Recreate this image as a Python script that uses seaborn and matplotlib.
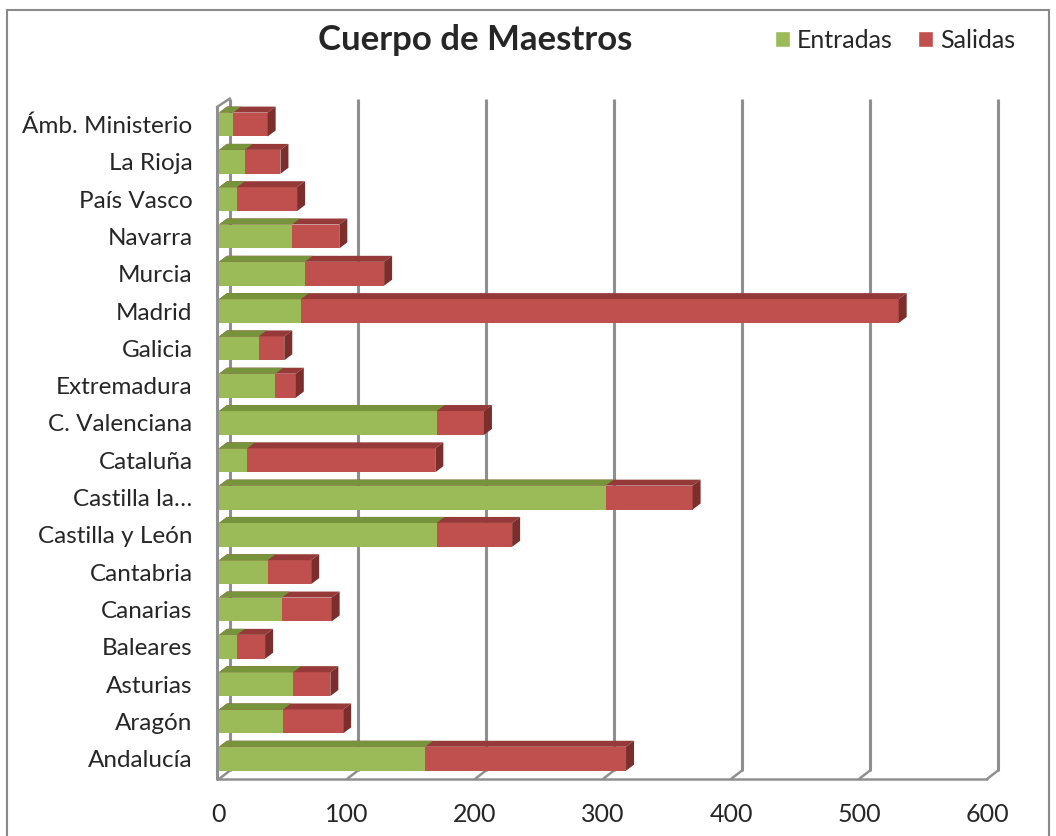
import matplotlib
matplotlib.use("Agg")
import matplotlib.pyplot as plt
from matplotlib.patches import Polygon, Patch, Rectangle
import seaborn as sns
import pandas as pd

# data
regions = ['Andalucía', 'Aragón', 'Asturias', 'Baleares', 'Canarias', 'Cantabria',
           'Castilla y León', 'Castilla la…', 'Cataluña', 'C. Valenciana', 'Extremadura',
           'Galicia', 'Madrid', 'Murcia', 'Navarra', 'País Vasco', 'La Rioja', 'Ámb. Ministerio']
entradas = [161, 50, 58, 14, 49, 38, 170, 302, 22, 170, 44, 31, 64, 67, 57, 14, 20, 11]
salidas = [157, 47, 29, 22, 39, 34, 59, 68, 147, 37, 16, 20, 467, 62, 37, 47, 28, 27]
x_ticks = [0, 100, 200, 300, 400, 500, 600]

df = pd.DataFrame({'region': regions, 'Entradas': entradas, 'Salidas': salidas})
df['total'] = df['Entradas'] + df['Salidas']
order = regions[::-1]

green = '#9bbb59'
red = '#c0504d'
green_top = '#77933c'
red_top = '#953a38'
red_side = '#7b2e2c'
grid_col = '#8f8f8f'

sns.set_style('white')
plt.rcParams['font.family'] = ['Lato', 'DejaVu Sans']

W, H = 1056, 836
fig = plt.figure(figsize=(W / 100, H / 100), dpi=100)
ax = fig.add_axes([219 / W, (H - 779) / H, 768 / W, 672 / H])

sns.barplot(data=df, x='total', y='region', order=order, color=red, width=0.64,
            saturation=1, edgecolor='none', ax=ax, zorder=2)
sns.barplot(data=df, x='Entradas', y='region', order=order, color=green, width=0.64,
            saturation=1, edgecolor='none', ax=ax, zorder=2)

ax.set_xlim(0, 600)
ax.set_ylim(17 + 0.544, -0.47)

# pixel -> data scales for the 3d look
px_x = 600 / 768
px_y = 18.014 / 672

# bar depth faces
n = len(regions)
bdx, bdy = 8 * px_x, 6 * px_y
for i, p in enumerate(ax.patches):
    x0, y0, w, h = p.get_x(), p.get_y(), p.get_width(), p.get_height()
    is_red = i < n
    top = Polygon([(x0, y0), (x0 + w, y0), (x0 + w + bdx, y0 - bdy), (x0 + bdx, y0 - bdy)],
                  closed=True, facecolor=red_top if is_red else green_top,
                  edgecolor='none', zorder=2.5, clip_on=False)
    ax.add_patch(top)
    if is_red:
        side = Polygon([(x0 + w, y0), (x0 + w + bdx, y0 - bdy), (x0 + w + bdx, y0 + h - bdy),
                        (x0 + w, y0 + h)], closed=True, facecolor=red_side,
                       edgecolor='none', zorder=2.5, clip_on=False)
        ax.add_patch(side)

# back wall, floor and side wall
wdx, wdy = 11 * px_x, 8.5 * px_y
ybot, ytop = 17 + 0.544, -0.47
for t in x_ticks:
    ax.plot([t + wdx, t + wdx], [ybot - wdy, ytop - wdy], color=grid_col, lw=2.2,
            zorder=0.5, clip_on=False, solid_capstyle='butt')
    ax.plot([t, t + wdx], [ybot, ybot - wdy], color=grid_col, lw=1.8, zorder=0.5, clip_on=False)
ax.plot([-2 * px_x, 600], [ybot, ybot], color=grid_col, lw=1.8, zorder=0.5, clip_on=False)
ax.plot([-2 * px_x, -2 * px_x], [ybot, ytop], color=grid_col, lw=2.2, zorder=0.5, clip_on=False)
ax.plot([-2 * px_x, wdx], [ytop, ytop - wdy], color=grid_col, lw=1.8, zorder=0.5, clip_on=False)

for s in ax.spines.values():
    s.set_visible(False)
ax.set_xticks(x_ticks)
ax.set_xticklabels([str(t) for t in x_ticks])
ax.tick_params(axis='x', length=0, pad=17, labelsize=18)
ax.tick_params(axis='y', length=0, pad=19, labelsize=17.5)
ax.set_xlabel('')
ax.set_ylabel('')
ax.grid(False)

fig.text(475 / W, 1 - 40 / H, 'Cuerpo de Maestros', ha='center', va='center',
         fontsize=25, fontweight='bold')

handles = [Patch(facecolor=green, label='Entradas'), Patch(facecolor=red, label='Salidas')]
fig.legend(handles=handles, loc='center left', bbox_to_anchor=(752 / W, 1 - 40 / H),
           ncol=2, frameon=False, fontsize=18, handlelength=0.6, handleheight=0.6,
           handletextpad=0.3, columnspacing=1.0)

fig.add_artist(Rectangle((7 / W, -0.05), (1049 - 7) / W, 1 - 10 / H + 0.05,
                         transform=fig.transFigure, fill=False, edgecolor='#8a8a8a', lw=1.5))

fig.savefig('out.png', dpi=100)
